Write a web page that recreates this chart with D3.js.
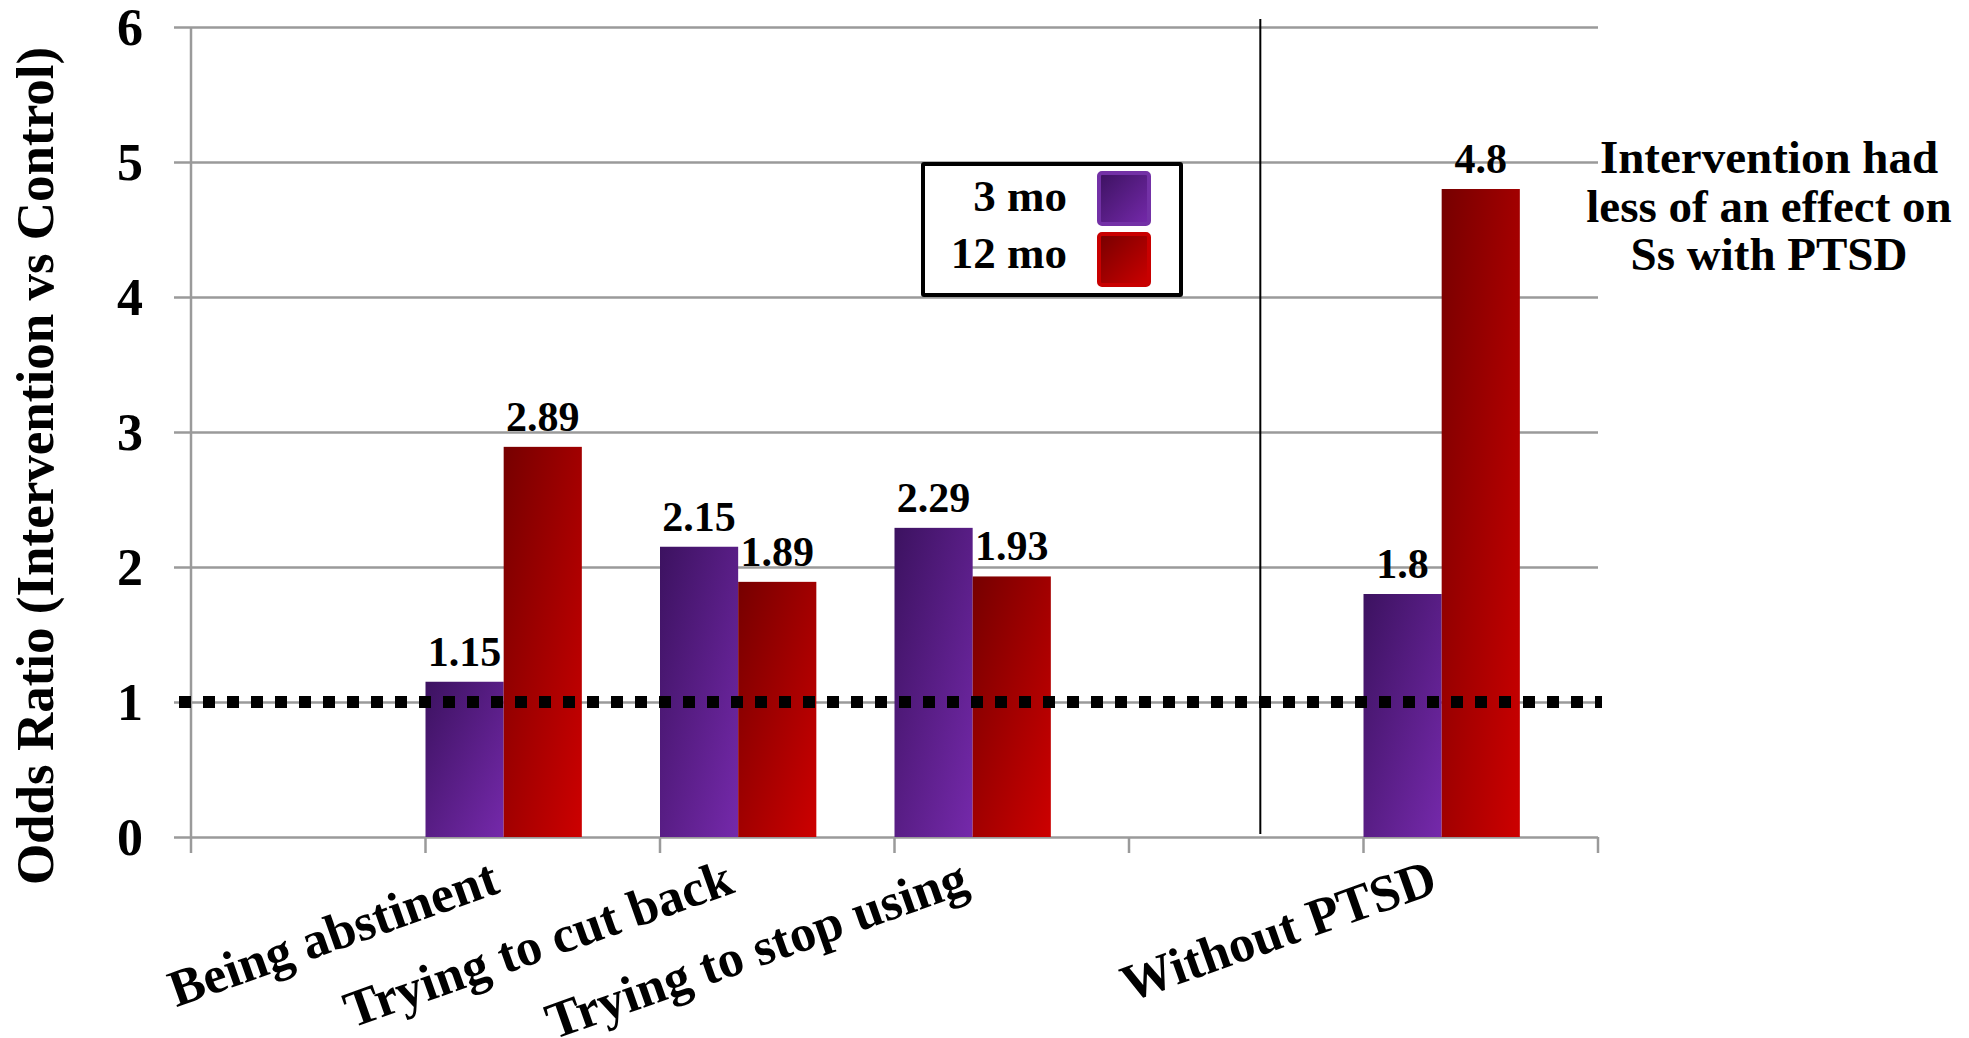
<!DOCTYPE html>
<html>
<head>
<meta charset="utf-8">
<script src="https://cdn.jsdelivr.net/npm/d3@7"></script>
<style>
  html, body { margin: 0; padding: 0; background: #fff; }
  svg { display: block; }
  text { font-family: "Liberation Serif", "Times New Roman", serif; font-weight: bold; fill: #000; }
</style>
</head>
<body>
<svg id="chart" width="1969" height="1038"></svg>
<script>
// ---- data ----
const categories = ["gapA", "Being abstinent", "Trying to cut back", "Trying to stop using", "gapB", "Without PTSD"];
const categoryLabels = ["", "Being abstinent", "Trying to cut back", "Trying to stop using", "", "Without PTSD"];
const seriesNames = ["3 mo", "12 mo"];
const values3mo = [null, 1.15, 2.15, 2.29, null, 1.8];
const values12mo = [null, 2.89, 1.89, 1.93, null, 4.8];
const yTicks = [0, 1, 2, 3, 4, 5, 6];
const referenceValue = 1;
const yTitle = "Odds Ratio (Intervention vs Control)";
const noteLines = ["Intervention had", "less of an effect on", "Ss with PTSD"];

(function () {
// ---- layout ----
const svg = d3.select("#chart");
const pL = 191, pR = 1598, pT = 27, pB = 837;

const x = d3.scaleBand().domain(categories).range([pL, pR]).paddingInner(0).paddingOuter(0);
const y = d3.scaleLinear().domain([0, 6]).range([pB, pT]);
const xs = d3.scaleBand().domain(seriesNames).range([0, x.bandwidth() * 2 / 3]).padding(0);

// gradients
const defs = svg.append("defs");
function grad(id, c0, c1) {
  const g = defs.append("linearGradient").attr("id", id)
    .attr("x1", 0).attr("y1", 0).attr("x2", 1).attr("y2", 1);
  g.append("stop").attr("offset", "0%").attr("stop-color", c0);
  g.append("stop").attr("offset", "100%").attr("stop-color", c1);
}
grad("gPurple", "#3c1260", "#7529ab");
grad("gRed", "#760000", "#cd0000");
const fills = { "3 mo": "url(#gPurple)", "12 mo": "url(#gRed)" };
const strokesLegend = { "3 mo": "#7331a6", "12 mo": "#c80000" };

// gridlines (with left tick stubs)
const yAxis = d3.axisLeft(y).tickValues(yTicks).tickSize(0).tickFormat("");
const gy = svg.append("g").attr("transform", `translate(${pL - 17},0)`).call(yAxis);
gy.select(".domain").remove();
gy.selectAll(".tick line").attr("stroke", "#9a9a9a").attr("stroke-width", 2.5)
  .attr("x1", 0).attr("x2", pR - pL + 17);

// y axis line
svg.append("line").attr("x1", pL).attr("x2", pL).attr("y1", y(6)).attr("y2", pB + 16)
  .attr("stroke", "#9a9a9a").attr("stroke-width", 2.5);

// x ticks
const xTickPos = categories.map(c => x(c)).concat([x(categories[categories.length - 1]) + x.bandwidth()]);
svg.append("g").selectAll("line").data(xTickPos.slice(1)).join("line")
  .attr("x1", d => d).attr("x2", d => d).attr("y1", pB).attr("y2", pB + 16)
  .attr("stroke", "#9a9a9a").attr("stroke-width", 2.5);

// y tick labels
svg.append("g").selectAll("text").data(yTicks).join("text")
  .attr("x", 143).attr("y", d => y(d)).attr("dy", "0.35em")
  .attr("text-anchor", "end").style("font-size", "52px").text(d => d);

// y title
svg.append("text").attr("transform", `translate(53,466) rotate(-90)`)
  .attr("text-anchor", "middle").style("font-size", "53px").text(yTitle);

// bars
const seriesData = [values3mo, values12mo];
const barData = [];
categories.forEach((c, i) => {
  seriesNames.forEach((s, j) => {
    const v = seriesData[j][i];
    if (v != null) barData.push({ c, s, v });
  });
});
svg.append("g").selectAll("rect").data(barData).join("rect")
  .attr("x", d => x(d.c) + xs(d.s))
  .attr("width", xs.bandwidth())
  .attr("y", d => y(d.v))
  .attr("height", d => y(0) - y(d.v))
  .attr("fill", d => fills[d.s]);

// data labels
svg.append("g").selectAll("text").data(barData).join("text")
  .attr("x", d => x(d.c) + xs(d.s) + xs.bandwidth() / 2)
  .attr("y", d => y(d.v) - 16)
  .attr("text-anchor", "middle").style("font-size", "42px")
  .text(d => d.v);

// reference dotted line at 1
svg.append("line").attr("x1", pL - 12).attr("x2", pR + 4)
  .attr("y1", y(referenceValue)).attr("y2", y(referenceValue))
  .attr("stroke", "#000").attr("stroke-width", 12).attr("stroke-dasharray", "12,12");

// separator line between groups
const sepX = x("gapB") + x.bandwidth() * 0.56;
svg.append("line").attr("x1", sepX).attr("x2", sepX).attr("y1", 19).attr("y2", pB - 3)
  .attr("stroke", "#000").attr("stroke-width", 2);

// x category labels
svg.append("g").selectAll("text").data(categories.filter((c, i) => categoryLabels[i] !== "")).join("text")
  .attr("transform", d => `translate(${x(d) + xs.bandwidth() - 2},${pB + 55}) rotate(-19.5)`)
  .attr("text-anchor", "end").style("font-size", "52px")
  .text(d => categoryLabels[categories.indexOf(d)]);

// legend
const lg = svg.append("g");
lg.append("rect").attr("x", 923).attr("y", 164).attr("width", 258).attr("height", 131)
  .attr("fill", "#fff").attr("stroke", "#000").attr("stroke-width", 4).attr("rx", 1);
seriesNames.forEach((s, i) => {
  lg.append("text").attr("x", 1067).attr("y", 211 + i * 57).attr("text-anchor", "end")
    .style("font-size", "45px").text(s);
  lg.append("rect").attr("x", 1099).attr("y", 173 + i * 61).attr("width", 50).attr("height", 51)
    .attr("rx", 3).attr("fill", fills[s]).attr("stroke", strokesLegend[s]).attr("stroke-width", 4);
});

// annotation
const note = svg.append("text").attr("text-anchor", "middle").style("font-size", "47px");
noteLines.forEach((t, i) => {
  note.append("tspan").attr("x", 1769).attr("y", 173 + i * 48.5).text(t);
});
})();
</script>
</body>
</html>
